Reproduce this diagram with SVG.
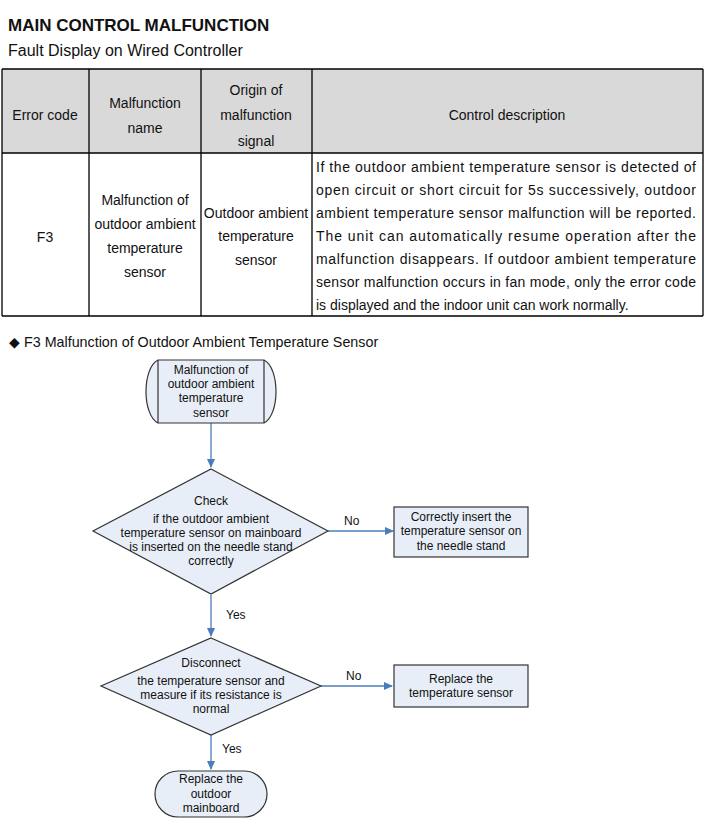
<svg xmlns="http://www.w3.org/2000/svg" width="716" height="825" viewBox="0 0 716 825">
<style>
text{font-family:"Liberation Sans",Arial,sans-serif;fill:#111}
.t{font-size:14px;text-anchor:middle}
.d{font-size:14px}
.f{font-size:12px;text-anchor:middle}
.lbl{font-size:12px}
.node{fill:#e8eef7;stroke:#333;stroke-width:1.2}
.grid{stroke:#000;stroke-width:1.3;fill:none}
.conn{stroke:#4a7ebb;stroke-width:1.3;fill:none;marker-end:url(#ah)}
</style>
<defs>
<marker id="ah" markerWidth="10" markerHeight="10" refX="8" refY="4" orient="auto" markerUnits="userSpaceOnUse">
<path d="M0,0 L9,4 L0,8 Z" fill="#4a7ebb"/>
</marker>
</defs>
<rect width="716" height="825" fill="#fff"/>
<text x="8" y="31" font-size="17" font-weight="bold">MAIN CONTROL MALFUNCTION</text>
<text x="8" y="56" font-size="16">Fault Display on Wired Controller</text>

<g id="table">
<rect x="2" y="69" width="701" height="84" fill="#d9d9d9"/>
<path class="grid" d="M2,69 H703 M2,153 H703 M2,316 H703 M2,69 V316 M89,69 V316 M201,69 V316 M312,69 V316 M703,69 V316"/>
<text class="t" x="45" y="120">Error code</text>
<text class="t" x="145" y="108">Malfunction</text>
<text class="t" x="145" y="133">name</text>
<text class="t" x="256" y="95">Origin of</text>
<text class="t" x="256" y="120">malfunction</text>
<text class="t" x="256" y="146">signal</text>
<text class="t" x="507" y="120">Control description</text>
<text class="t" x="45" y="242">F3</text>
<text class="t" x="145" y="205">Malfunction of</text>
<text class="t" x="145" y="229">outdoor ambient</text>
<text class="t" x="145" y="253">temperature</text>
<text class="t" x="145" y="277">sensor</text>
<text class="t" x="256" y="218">Outdoor ambient</text>
<text class="t" x="256" y="241">temperature</text>
<text class="t" x="256" y="265">sensor</text>
<text class="d" x="316" y="172" textLength="380" lengthAdjust="spacing">If the outdoor ambient temperature sensor is detected of</text>
<text class="d" x="316" y="195" textLength="380" lengthAdjust="spacing">open circuit or short circuit for 5s successively, outdoor</text>
<text class="d" x="316" y="218" textLength="380" lengthAdjust="spacing">ambient temperature sensor malfunction will be reported.</text>
<text class="d" x="316" y="241" textLength="380" lengthAdjust="spacing">The unit can automatically resume operation after the</text>
<text class="d" x="316" y="264" textLength="380" lengthAdjust="spacing">malfunction disappears. If outdoor ambient temperature</text>
<text class="d" x="316" y="287" textLength="380" lengthAdjust="spacing">sensor malfunction occurs in fan mode, only the error code</text>
<text class="d" x="316" y="310">is displayed and the indoor unit can work normally.</text>
</g>

<text x="9" y="347" font-size="14.3" font-family="'Liberation Sans','DejaVu Sans',sans-serif">◆ F3 Malfunction of Outdoor Ambient Temperature Sensor</text>

<g id="connectors">
<path class="conn" d="M211,423 V467"/>
<path class="conn" d="M328,531 H393"/>
<path class="conn" d="M211,595 V636"/>
<path class="conn" d="M321,686 H392"/>
<path class="conn" d="M211,735 V769"/>
<text class="lbl" x="344" y="525">No</text>
<text class="lbl" x="226" y="619">Yes</text>
<text class="lbl" x="346" y="680">No</text>
<text class="lbl" x="222" y="753">Yes</text>
</g>

<g id="start">
<path class="node" d="M158,360 H264 C280,368 280,415 264,423 H158 C142,415 142,368 158,360 Z"/>
<path d="M158,360 V423 M264,360 V423" stroke="#333" stroke-width="1.2"/>
<text class="f" x="211" y="374">Malfunction of</text>
<text class="f" x="211" y="388">outdoor ambient</text>
<text class="f" x="211" y="402">temperature</text>
<text class="f" x="211" y="417">sensor</text>
</g>

<g id="check">
<polygon class="node" points="211,469 328,531 211,594 93,531"/>
<text class="f" x="211" y="505">Check</text>
<text class="f" x="211" y="523">if the outdoor ambient</text>
<text class="f" x="211" y="537">temperature sensor on mainboard</text>
<text class="f" x="211" y="551">is inserted on the needle stand</text>
<text class="f" x="211" y="565">correctly</text>
</g>

<g id="insert">
<rect class="node" x="394" y="507" width="134" height="50"/>
<text class="f" x="461" y="521">Correctly insert the</text>
<text class="f" x="461" y="535">temperature sensor on</text>
<text class="f" x="461" y="550">the needle stand</text>
</g>

<g id="disconnect">
<polygon class="node" points="211,638 321,686 211,735 101,686"/>
<text class="f" x="211" y="667">Disconnect</text>
<text class="f" x="211" y="685">the temperature sensor and</text>
<text class="f" x="211" y="699">measure if its resistance is</text>
<text class="f" x="211" y="713">normal</text>
</g>

<g id="replace-sensor">
<rect class="node" x="394" y="665" width="134" height="42"/>
<text class="f" x="461" y="683">Replace the</text>
<text class="f" x="461" y="697">temperature sensor</text>
</g>

<g id="replace-mainboard">
<rect class="node" x="155" y="771" width="112" height="46" rx="23" ry="23"/>
<text class="f" x="211" y="783">Replace the</text>
<text class="f" x="211" y="798">outdoor</text>
<text class="f" x="211" y="812">mainboard</text>
</g>
</svg>
